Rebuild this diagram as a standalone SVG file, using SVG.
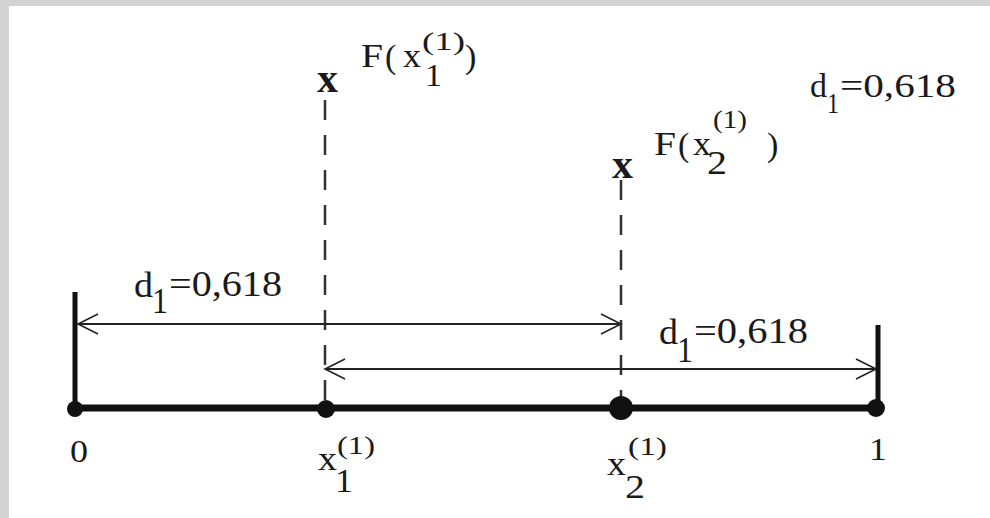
<svg xmlns="http://www.w3.org/2000/svg" width="990" height="518" viewBox="0 0 990 518">
<style>
.t{font-family:"Liberation Serif","Times New Roman",serif;fill:#1a1a1a}
.dash{stroke:#333;stroke-width:2.5;stroke-dasharray:20 15;fill:none}
.arr{stroke:#222;stroke-width:2;fill:none;marker-start:url(#ah);marker-end:url(#ah)}
.bar{stroke:#111;stroke-width:5;fill:none}
</style>
<defs>
<marker id="ah" markerUnits="userSpaceOnUse" markerWidth="30" markerHeight="30" viewBox="-25 -15 30 30" refX="0" refY="0" orient="auto-start-reverse">
<path d="M-20,-10 L0,0 L-20,10" fill="none" stroke="#222" stroke-width="1.6"/>
</marker>
</defs>
<rect width="990" height="518" fill="#d3d3d3"/>
<rect x="9" y="6" width="981" height="512" fill="#fff"/>

<g id="connectors">
<line class="dash" x1="325" y1="100" x2="325" y2="400"/>
<line class="dash" x1="621" y1="180" x2="621" y2="398"/>
<line class="arr" x1="78" y1="324" x2="621" y2="324"/>
<line class="arr" x1="325" y1="369" x2="876" y2="369"/>
<line class="bar" x1="75" y1="292" x2="75" y2="408"/>
<line class="bar" x1="878" y1="325" x2="878" y2="408"/>
<line x1="73" y1="408" x2="877" y2="408" stroke="#111" stroke-width="7"/>
</g>

<g id="p0">
<circle cx="75" cy="409" r="8" fill="#111"/>
<text class="t" x="70" y="462" font-size="32" textLength="18" lengthAdjust="spacingAndGlyphs">0</text>
</g>
<g id="px1">
<circle cx="326" cy="409" r="9" fill="#111"/>
<text class="t" x="318" y="470" font-size="33" textLength="19" lengthAdjust="spacingAndGlyphs">x</text>
<text class="t" x="337" y="454" font-size="26" textLength="38" lengthAdjust="spacingAndGlyphs">(1)</text>
<text class="t" x="335" y="492" font-size="33" textLength="18" lengthAdjust="spacingAndGlyphs">1</text>
</g>
<g id="px2">
<circle cx="621" cy="408" r="12" fill="#111"/>
<text class="t" x="607" y="475" font-size="33" textLength="19" lengthAdjust="spacingAndGlyphs">x</text>
<text class="t" x="628" y="455" font-size="26" textLength="39" lengthAdjust="spacingAndGlyphs">(1)</text>
<text class="t" x="625" y="498" font-size="34" textLength="20" lengthAdjust="spacingAndGlyphs">2</text>
</g>
<g id="p1">
<circle cx="876" cy="408" r="9" fill="#111"/>
<text class="t" x="869" y="460" font-size="32" textLength="18" lengthAdjust="spacingAndGlyphs">1</text>
</g>

<g id="fx1">
<text class="t" x="317" y="92" font-size="42" font-weight="bold">x</text>
<text class="t" x="361" y="67" font-size="34" textLength="22" lengthAdjust="spacingAndGlyphs">F</text>
<text class="t" x="385" y="68" font-size="34">(</text>
<text class="t" x="403" y="67" font-size="34" textLength="18" lengthAdjust="spacingAndGlyphs">x</text>
<text class="t" x="422" y="50" font-size="25" textLength="43" lengthAdjust="spacingAndGlyphs">(1)</text>
<text class="t" x="425" y="86" font-size="32" textLength="17" lengthAdjust="spacingAndGlyphs">1</text>
<text class="t" x="465" y="68" font-size="34">)</text>
</g>
<g id="fx2">
<text class="t" x="612" y="178" font-size="42" font-weight="bold">x</text>
<text class="t" x="654" y="155" font-size="34" textLength="22" lengthAdjust="spacingAndGlyphs">F</text>
<text class="t" x="678" y="156" font-size="34">(</text>
<text class="t" x="693" y="155" font-size="34" textLength="18" lengthAdjust="spacingAndGlyphs">x</text>
<text class="t" x="713" y="128" font-size="25" textLength="34" lengthAdjust="spacingAndGlyphs">(1)</text>
<text class="t" x="707" y="174" font-size="33" textLength="20" lengthAdjust="spacingAndGlyphs">2</text>
<text class="t" x="767" y="156" font-size="34">)</text>
</g>

<g id="d-top">
<text class="t" x="810" y="97" font-size="33" textLength="17" lengthAdjust="spacingAndGlyphs">d</text>
<text class="t" x="827" y="113" font-size="30" textLength="12" lengthAdjust="spacingAndGlyphs">1</text>
<text class="t" x="840" y="97" font-size="33" textLength="116" lengthAdjust="spacingAndGlyphs">=0,618</text>
</g>
<g id="d-left">
<text class="t" x="134" y="297" font-size="35" textLength="19" lengthAdjust="spacingAndGlyphs">d</text>
<text class="t" x="152" y="313" font-size="35" textLength="16" lengthAdjust="spacingAndGlyphs">1</text>
<text class="t" x="169" y="296" font-size="35" textLength="113" lengthAdjust="spacingAndGlyphs">=0,618</text>
</g>
<g id="d-right">
<text class="t" x="659" y="344" font-size="35" textLength="19" lengthAdjust="spacingAndGlyphs">d</text>
<text class="t" x="677" y="362" font-size="35" textLength="16" lengthAdjust="spacingAndGlyphs">1</text>
<text class="t" x="694" y="343" font-size="35" textLength="114" lengthAdjust="spacingAndGlyphs">=0,618</text>
</g>
</svg>
